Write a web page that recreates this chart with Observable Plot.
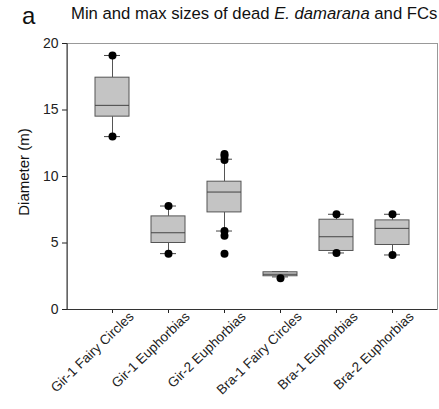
<!DOCTYPE html>
<html><head><meta charset="utf-8">
<script src="https://cdn.jsdelivr.net/npm/d3@7"></script>
<script src="https://cdn.jsdelivr.net/npm/@observablehq/plot@0.6"></script>
<style>
body{margin:0;background:#fff;font-family:"Liberation Sans",Arial,sans-serif;color:#111;}
#wrap{position:relative;width:439px;height:409px;overflow:hidden;}
#panel{position:absolute;left:22px;top:4px;font-size:24px;line-height:1;}
#title{position:absolute;left:71px;top:6px;font-size:16.7px;line-height:1;white-space:nowrap;}
#ylabel{position:absolute;left:23px;top:172px;font-size:15px;line-height:1;white-space:nowrap;transform:translate(-50%,-50%) rotate(-90deg);}
</style></head><body>
<div id="wrap"><div id="chart"></div>
<div id="panel">a</div>
<div id="title">Min and max sizes of dead <i>E. damarana</i> and FCs</div>
<div id="ylabel">Diameter (m)</div>
</div>
<script>
const categories = ["Gir-1 Fairy Circles","Gir-1 Euphorbias","Gir-2 Euphorbias","Bra-1 Fairy Circles","Bra-1 Euphorbias","Bra-2 Euphorbias"];
const whiskerLow  = [13.0, 4.2, 5.9, 2.45, 4.25, 4.1];
const q1          = [14.5, 5.0, 7.3, 2.5, 4.4, 4.85];
const median      = [15.35, 5.77, 8.83, 2.65, 5.47, 6.1];
const q3          = [17.43, 7.0, 9.61, 2.8, 6.75, 6.7];
const whiskerHigh = [19.1, 7.78, 11.3, 2.85, 7.16, 7.16];
const pointCategory = ["Gir-1 Fairy Circles","Gir-1 Fairy Circles","Gir-1 Euphorbias","Gir-1 Euphorbias",
  "Gir-2 Euphorbias","Gir-2 Euphorbias","Gir-2 Euphorbias","Gir-2 Euphorbias","Gir-2 Euphorbias","Gir-2 Euphorbias",
  "Bra-1 Fairy Circles","Bra-1 Euphorbias","Bra-1 Euphorbias","Bra-2 Euphorbias","Bra-2 Euphorbias"];
const pointValue = [19.1, 13.0, 7.78, 4.2, 11.7, 11.55, 11.25, 5.9, 5.55, 4.2, 2.35, 7.16, 4.25, 7.16, 4.1];
const yTicks = [0, 5, 10, 15, 20];

const boxes = categories.map((c, i) => ({category: c, lo: whiskerLow[i], q1: q1[i], med: median[i], q3: q3[i], hi: whiskerHigh[i]}));
const points = pointCategory.map((c, i) => ({category: c, value: pointValue[i]}));

const leftLine = (index, scales, values, dimensions) => {
  const g = d3.create("svg:line")
    .attr("x1", dimensions.marginLeft).attr("x2", dimensions.marginLeft)
    .attr("y1", scales.y(20)).attr("y2", scales.y(0))
    .attr("stroke", "#333");
  return g.node();
};

const chart = Plot.plot({
  width: 439, height: 409,
  marginLeft: 67, marginRight: 2, marginTop: 43, marginBottom: 100,
  style: {fontFamily: "Liberation Sans, Arial, sans-serif", fontSize: "14px", color: "#222", background: "white"},
  x: {domain: categories, paddingInner: 0, paddingOuter: 0.3, label: null},
  y: {domain: [0, 20], label: null},
  marks: [
    Plot.frame({stroke: "#999"}),
    Plot.axisY({ticks: yTicks, tickSize: 5, fontSize: 14, label: null}),
    Plot.axisX({tickSize: 4, tickFormat: () => "", label: null}),
    Plot.axisX({tickSize: 0, tickRotate: -44, fontSize: 13.5, dx: 19, dy: -7, label: null}),
    Plot.ruleX(boxes, {x: "category", y1: "lo", y2: "q1", stroke: "#555"}),
    Plot.ruleX(boxes, {x: "category", y1: "q3", y2: "hi", stroke: "#555"}),
    Plot.tickY(boxes, {x: "category", y: "lo", insetLeft: 20, insetRight: 20, stroke: "#444"}),
    Plot.tickY(boxes, {x: "category", y: "hi", insetLeft: 20, insetRight: 20, stroke: "#444"}),
    Plot.barY(boxes, {x: "category", y1: "q1", y2: "q3", fill: "#c4c4c4", stroke: "#555", insetLeft: 11, insetRight: 11}),
    Plot.tickY(boxes, {x: "category", y: "med", insetLeft: 11, insetRight: 11, stroke: "#444"}),
    Plot.dot(points, {x: "category", y: "value", r: 4, fill: "black"}),
    Plot.ruleY([0], {stroke: "#333"}),
    leftLine
  ]
});
document.getElementById("chart").appendChild(chart);
</script>
</body></html>
